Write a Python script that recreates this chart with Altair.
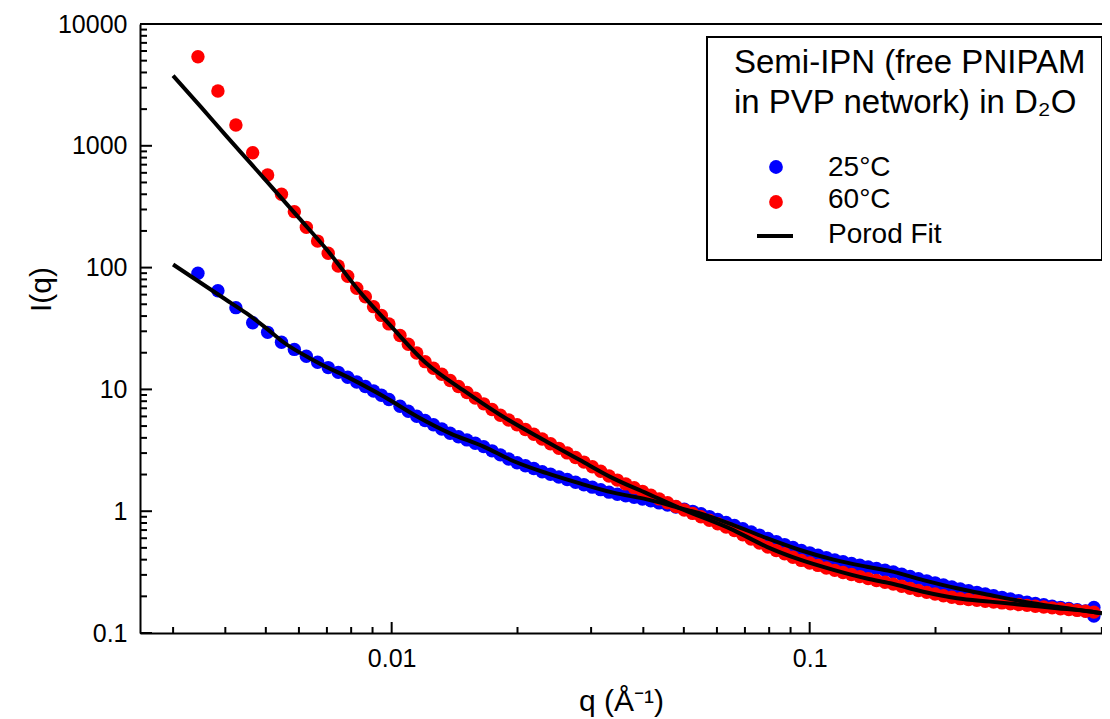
import altair as alt
import pandas as pd

# ---------------- data ----------------
series_names = ["25°C", "60°C"]

# q positions of the plotted points (shared by both temperatures)
q_pts = [0.00344, 0.00384, 0.00424, 0.00465, 0.00505, 0.00545, 0.00585, 0.00625, 0.00665,
         0.00705, 0.00745, 0.00785, 0.00825, 0.00865, 0.00905, 0.00945, 0.00985,
         0.01047, 0.01096, 0.01148, 0.01202, 0.01259, 0.01318, 0.0138, 0.01445, 0.01514,
         0.01585, 0.0166, 0.01738, 0.0182, 0.01905, 0.01995, 0.02089, 0.02188, 0.02291,
         0.02399, 0.02512, 0.0263, 0.02754, 0.02884, 0.0302, 0.03162, 0.03311, 0.03467,
         0.03631, 0.03802, 0.03981, 0.04169, 0.04365, 0.04571, 0.04786, 0.05012, 0.05248,
         0.05495, 0.05754, 0.06026, 0.0631, 0.06607, 0.06918, 0.07244, 0.07586, 0.07943,
         0.08318, 0.0871, 0.0912, 0.0955, 0.1, 0.1047, 0.1096, 0.1148, 0.1202, 0.1259,
         0.1318, 0.138, 0.1445, 0.1514, 0.1585, 0.166, 0.1738, 0.182, 0.1905, 0.1995,
         0.2089, 0.2188, 0.2291, 0.2399, 0.2512, 0.263, 0.2754, 0.2884, 0.302, 0.3162,
         0.3311, 0.3467, 0.3631, 0.3802, 0.3981, 0.4169, 0.4365, 0.4571, 0.4786]

I_25 = [89.8, 64.6, 46.9, 35.3, 29.4, 24.4, 21.3, 18.7, 16.7, 15.1, 13.8, 12.6, 11.5,
        10.56, 9.71, 8.96, 8.26,
        7.28, 6.62, 6.02, 5.55, 5.12, 4.73, 4.36, 4.09, 3.85, 3.61, 3.39, 3.13, 2.90,
        2.68, 2.50, 2.36, 2.24, 2.11, 2.01, 1.91, 1.82, 1.73, 1.65, 1.576, 1.503, 1.434,
        1.379, 1.339, 1.299, 1.260, 1.217, 1.170, 1.125, 1.081, 1.039, 0.997, 0.955,
        0.903, 0.855, 0.809, 0.764, 0.718, 0.675, 0.634, 0.596, 0.563, 0.532, 0.503,
        0.476, 0.455, 0.435, 0.416, 0.398, 0.385, 0.372, 0.360, 0.348, 0.338, 0.328,
        0.317, 0.304, 0.291, 0.279, 0.268, 0.258, 0.248, 0.2385, 0.230, 0.2228, 0.2157,
        0.2088, 0.2023, 0.1962, 0.1902, 0.1844, 0.1792, 0.1748, 0.1705, 0.1662, 0.1624,
        0.1588, 0.1553, 0.1519, 0.1485]

I_60 = [5386, 2818, 1482, 878, 576, 400, 288, 214, 165, 131, 103, 85, 67.6, 57.7, 47.8,
        40.5, 34.5,
        27.7, 23.5, 19.9, 16.9, 14.93, 13.3, 11.85, 10.56, 9.44, 8.48, 7.61, 6.83, 6.14,
        5.61, 5.13, 4.68, 4.28, 3.91, 3.58, 3.28, 3.01, 2.76, 2.53, 2.32, 2.125, 1.948,
        1.80, 1.676, 1.561, 1.455, 1.354, 1.262, 1.175, 1.094, 1.023, 0.959, 0.899,
        0.843, 0.790, 0.741, 0.694, 0.641, 0.592, 0.547, 0.507, 0.476, 0.447, 0.419,
        0.3946, 0.376, 0.359, 0.342, 0.3268, 0.3143, 0.302, 0.2904, 0.2795, 0.2702,
        0.2612, 0.2519, 0.2421, 0.2326, 0.2236, 0.2157, 0.2089, 0.2025, 0.1963, 0.1914,
        0.1884, 0.1854, 0.1824, 0.1795, 0.1767, 0.1739, 0.1712, 0.1686, 0.166, 0.1634,
        0.1609, 0.1583, 0.1558, 0.1533, 0.1509, 0.1484]

# scattered last 25°C points at the high-q end
q_25_end = [0.4786, 0.4786]
I_25_end = [0.162, 0.138]

fit_25_q = [0.003, 0.004, 0.0045, 0.005, 0.0055, 0.0066, 0.008, 0.0096, 0.0115, 0.0138,
            0.0166, 0.0196, 0.0235, 0.0282, 0.0339, 0.0408, 0.049, 0.0547, 0.0657, 0.079,
            0.0948, 0.114, 0.137, 0.156, 0.187, 0.225, 0.27, 0.325, 0.39, 0.469, 0.5]
fit_25_I = [106, 55, 42, 32, 24.5, 16.9, 12.2, 8.7, 6.0, 4.36, 3.39, 2.57, 2.05, 1.69,
            1.42, 1.25, 1.06, 0.96, 0.77, 0.60, 0.48, 0.40, 0.35, 0.322, 0.272, 0.233,
            0.205, 0.181, 0.164, 0.150, 0.145]

fit_60_q = [0.003, 0.0035, 0.004, 0.0045, 0.005, 0.006, 0.007, 0.0084, 0.00985, 0.0121,
            0.0148, 0.0182, 0.0235, 0.0282, 0.0339, 0.0408, 0.049, 0.0657, 0.079, 0.0948,
            0.114, 0.137, 0.156, 0.187, 0.225, 0.27, 0.325, 0.39, 0.469, 0.5]
fit_60_I = [3765, 2080, 1230, 780, 520, 256, 140, 63, 34.5, 16.4, 9.9, 6.16, 3.72, 2.63,
            1.86, 1.40, 1.056, 0.70, 0.51, 0.40, 0.33, 0.28, 0.256, 0.218, 0.193, 0.181,
            0.170, 0.160, 0.150, 0.145]

x_major = [0.01, 0.1]
x_minor = [0.003, 0.004, 0.005, 0.006, 0.007, 0.008, 0.009,
           0.02, 0.03, 0.04, 0.05, 0.06, 0.07, 0.08, 0.09,
           0.2, 0.3, 0.4, 0.5]
y_major = [0.1, 1, 10, 100, 1000, 10000]
y_minor = [m * d for d in [0.1, 1, 10, 100, 1000] for m in [2, 3, 4, 5, 6, 7, 8, 9]]

legend_title = ["Semi-IPN (free PNIPAM", "in PVP network) in D₂O"]
legend_labels = ["25°C", "60°C", "Porod Fit"]
colors = ["#0000ff", "#ff0000"]

# ---------------- chart ----------------
W, H = 962, 609
FONT = "Liberation Sans"

xscale = alt.Scale(type="log", domain=[0.0025, 0.5004], nice=False)
yscale = alt.Scale(type="log", domain=[0.1, 10000], nice=False)

xaxis = alt.Axis(values=x_major, format="~g", ticks=False, grid=False,
                 domainColor="black", domainWidth=2,
                 labelFont=FONT, labelFontSize=25, labelColor="black", labelPadding=13,
                 title="q (Å⁻¹)", titleFont=FONT, titleFontSize=30,
                 titleFontWeight="normal", titleColor="black",
                 titleY=77, titleBaseline="alphabetic")
yaxis = alt.Axis(values=y_major, format="~g", ticks=False, grid=False,
                 domainColor="black", domainWidth=2,
                 labelFont=FONT, labelFontSize=25, labelColor="black", labelPadding=13,
                 title="I(q)", titleFont=FONT, titleFontSize=30,
                 titleFontWeight="normal", titleColor="black",
                 titleX=-99, titleY=265, titleAngle=270,
                 titleBaseline="middle", titleAlign="center")

X = alt.X("q:Q", scale=xscale, axis=xaxis)
Y = alt.Y("I:Q", scale=yscale, axis=yaxis)

pts = pd.concat([
    pd.DataFrame({"q": q_pts, "I": I_25, "series": series_names[0]}),
    pd.DataFrame({"q": q_25_end, "I": I_25_end, "series": series_names[0]}),
    pd.DataFrame({"q": q_pts, "I": I_60, "series": series_names[1]}),
], ignore_index=True)
fits = pd.concat([
    pd.DataFrame({"q": fit_25_q, "I": fit_25_I, "series": series_names[0]}),
    pd.DataFrame({"q": fit_60_q, "I": fit_60_I, "series": series_names[1]}),
], ignore_index=True)

color = alt.Color("series:N", scale=alt.Scale(domain=series_names, range=colors), legend=None)

points = alt.Chart(pts).mark_circle(size=180, opacity=1).encode(x=X, y=Y, color=color)
lines = alt.Chart(fits).mark_line(color="black", strokeWidth=4, interpolate="monotone").encode(
    x=X, y=Y, detail="series:N")

one = pd.DataFrame({"k": [0]})

ymaj = alt.Chart(pd.DataFrame({"I": y_major})).mark_rule(color="black", strokeWidth=2).encode(
    y=Y, x=alt.value(0), x2=alt.value(12))
ymin = alt.Chart(pd.DataFrame({"I": y_minor})).mark_rule(color="black", strokeWidth=2).encode(
    y=Y, x=alt.value(0), x2=alt.value(7))
xmaj = alt.Chart(pd.DataFrame({"q": x_major})).mark_rule(color="black", strokeWidth=2).encode(
    x=X, y=alt.value(H), y2=alt.value(H - 11))
xmin = alt.Chart(pd.DataFrame({"q": x_minor})).mark_rule(color="black", strokeWidth=2).encode(
    x=X, y=alt.value(H), y2=alt.value(H - 6))
top = alt.Chart(one).mark_rule(color="black", strokeWidth=2).encode(
    x=alt.value(0), x2=alt.value(W), y=alt.value(0))

# legend box
box = alt.Chart(one).mark_rect(fill="white", stroke="black", strokeWidth=2).encode(
    x=alt.value(567), x2=alt.value(962), y=alt.value(13), y2=alt.value(236))
t1 = alt.Chart(one).mark_text(text=legend_title[0], font=FONT, fontSize=33, align="left",
                              baseline="alphabetic", color="black").encode(
    x=alt.value(594), y=alt.value(49))
t2 = alt.Chart(one).mark_text(text=legend_title[1], font=FONT, fontSize=33, align="left",
                              baseline="alphabetic", color="black").encode(
    x=alt.value(594), y=alt.value(89))
d1 = alt.Chart(one).mark_circle(size=190, opacity=1, color=colors[0]).encode(
    x=alt.value(636), y=alt.value(143))
d2 = alt.Chart(one).mark_circle(size=190, opacity=1, color=colors[1]).encode(
    x=alt.value(636), y=alt.value(178))
l3 = alt.Chart(one).mark_rule(color="black", strokeWidth=4).encode(
    x=alt.value(617), x2=alt.value(653), y=alt.value(212))
labs = []
for txt, yy in zip(legend_labels, [152, 184, 219]):
    labs.append(alt.Chart(one).mark_text(text=txt, font=FONT, fontSize=28, align="left",
                                         baseline="alphabetic", color="black").encode(
        x=alt.value(688), y=alt.value(yy)))

chart = alt.layer(points, lines, ymaj, ymin, xmaj, xmin, top, box, t1, t2, d1, d2, l3, *labs
                  ).properties(
    width=W, height=H, autosize="none",
    padding={"left": 132, "top": 16, "right": 0, "bottom": 84},
).configure_view(stroke=None)

chart.save("out.html", embed_options={"renderer": "svg", "actions": False})
